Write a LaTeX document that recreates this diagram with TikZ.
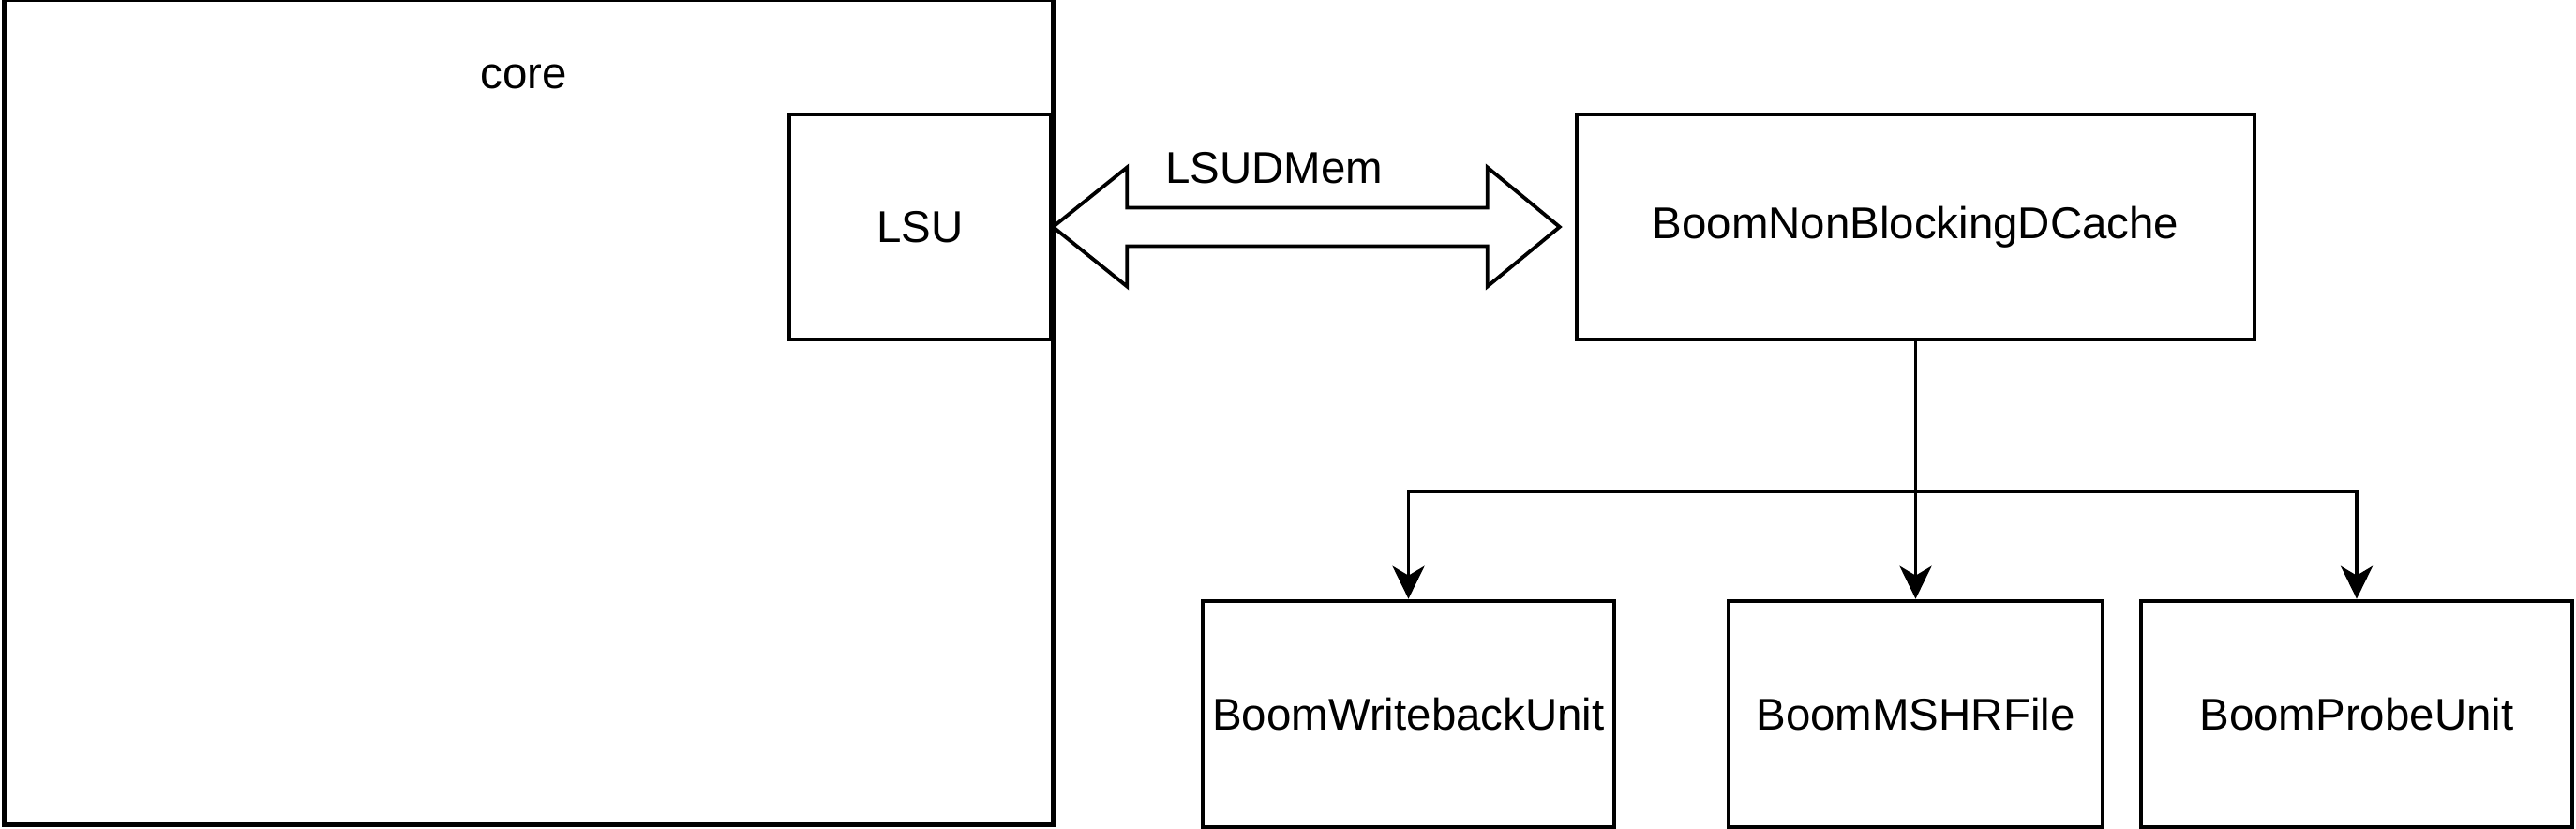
\documentclass[tikz,border=0pt]{standalone}
\usepackage{fontspec}
\setmainfont{Liberation Sans}
\usetikzlibrary{arrows.meta,calc}

\tikzset{
    unitbox/.style={draw=black, line width=1.3pt, rectangle, inner sep=0pt, align=center},
    unitlabel/.style={font=\fontsize{13.5}{16}\selectfont},
    feed/.style={draw=black, line width=1.1pt, -{Stealth[length=3.5mm, width=3.4mm, inset=1mm]}}
}

\begin{document}
\begin{tikzpicture}
        % Fix the page size to the reference proportions
        \useasboundingbox (0,0) rectangle (27.48,8.84);

        % The core box and its title
        \node[unitbox, anchor=south west, minimum width=11.19cm, minimum height=8.8cm] (core) at (0.02,0.02) {};
        \node[unitlabel, anchor=base] (corelabel) at (5.59,7.89) {core};

        % LSU sits on the right edge of the core
        \node[unitbox, unitlabel, minimum width=2.79cm, minimum height=2.4cm] (lsu) at (9.815,6.42) {LSU};

        % The data cache
        \node[unitbox, unitlabel, minimum width=7.23cm, minimum height=2.4cm] (cache) at (20.435,6.42) {BoomNonBlockingDCache};

        % Bottom row of cache sub units
        \node[unitbox, unitlabel, minimum width=4.39cm, minimum height=2.41cm] (wb) at (15.025,1.225) {BoomWritebackUnit};
        \node[unitbox, unitlabel, minimum width=3.99cm, minimum height=2.41cm] (mshr) at (20.435,1.225) {BoomMSHRFile};
        \node[unitbox, unitlabel, minimum width=4.6cm, minimum height=2.41cm] (probe) at (25.14,1.225) {BoomProbeUnit};

        % Wide double arrow between LSU and the cache
        \coordinate (dl) at (lsu.east);
        \coordinate (dr) at ($(cache.west)+(-0.16,0)$);
        \draw[line width=1.1pt, line join=miter] (dl)
            -- ($(dl)+(0.79,0.635)$) -- ($(dl)+(0.79,0.205)$)
            -- ($(dr)+(-0.77,0.205)$) -- ($(dr)+(-0.77,0.635)$)
            -- (dr)
            -- ($(dr)+(-0.77,-0.635)$) -- ($(dr)+(-0.77,-0.205)$)
            -- ($(dl)+(0.79,-0.205)$) -- ($(dl)+(0.79,-0.635)$)
            -- cycle;
        \node[unitlabel, anchor=base] (memlabel) at (13.59,6.88) {LSUDMem};

        % Tree from the cache down to the sub units
        \coordinate (split) at ($(cache.south)+(0,-1.6)$);
        \draw[line width=1.1pt] (cache.south) -- (split);
        \draw[feed] (split) -- (mshr.north);
        \draw[feed] (split) -| (wb.north);
        \draw[feed] (split) -| (probe.north);
\end{tikzpicture}
\end{document}
